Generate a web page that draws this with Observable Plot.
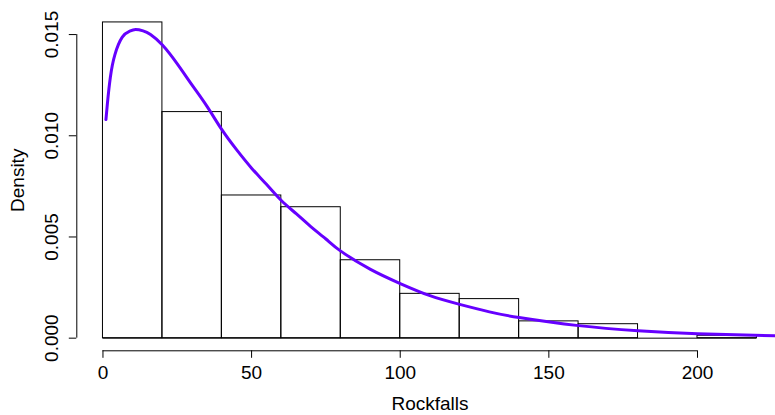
<!DOCTYPE html>
<html>
<head>
<meta charset="utf-8">
<script src="https://cdn.jsdelivr.net/npm/d3@7"></script>
<script src="https://cdn.jsdelivr.net/npm/@observablehq/plot@0.6"></script>
<style>
  html, body { margin: 0; padding: 0; background: #fff; overflow: hidden; }
  #chart svg { display: block; overflow: visible; }
</style>
</head>
<body>
<div id="chart"></div>
<script>
// Histogram bin edges and densities
const breaks = [0, 20, 40, 60, 80, 100, 120, 140, 160, 180, 200, 220];
const densities = [0.0156, 0.01117, 0.00705, 0.00647, 0.00385, 0.00219, 0.00193, 0.00083, 0.00069, 0, 0.00012];

// Fitted density curve
const curveX = [1, 1.5, 2.5, 4, 6.5, 9, 11, 13.5, 16, 20, 25, 30, 35, 40, 45, 50, 55, 60, 65, 70, 75, 80, 90, 100, 110, 120, 130, 140, 160, 180, 200, 226.5];
const curveY = [0.0108, 0.0116, 0.0129, 0.0140, 0.01487, 0.01517, 0.01525, 0.01518, 0.0150, 0.01448, 0.01355, 0.0125, 0.01145, 0.0103, 0.0093, 0.0084, 0.0076, 0.0068, 0.00615, 0.0055, 0.0049, 0.0043, 0.0034, 0.0027, 0.0021, 0.00167, 0.0013, 0.00102, 0.00062, 0.00037, 0.00022, 0.00012];

// Axis ticks
const xTicks = [0, 50, 100, 150, 200];
const yTicks = [0, 0.005, 0.010, 0.015];
const yTickLabels = ["0.000", "0.005", "0.010", "0.015"];

const bars = densities.map((d, i) => ({x1: breaks[i], x2: breaks[i + 1], y: d}));
const curve = curveX.map((x, i) => ({x, y: curveY[i]}));

// R-style 4% axis extension
const xr = breaks[breaks.length - 1] - breaks[0];
const xLo = breaks[0] - 0.04 * xr, xHi = breaks[breaks.length - 1] + 0.04 * xr;
const ymax = d3.max(densities);
const yLo = -0.04 * ymax, yHi = ymax * 1.04;

const W = 775, H = 415;
const mL = 76.3, mR = W - 782.6, mT = 9.3, mB = H - 350.3;
const font = "'Liberation Sans', Arial, Helvetica, sans-serif";
const fs = 19;

const chart = Plot.plot({
  width: W,
  height: H,
  marginLeft: mL,
  marginRight: mR,
  marginTop: mT,
  marginBottom: mB,
  style: {fontFamily: font, fontSize: fs + "px", color: "#000", background: "#fff", overflow: "visible"},
  x: {domain: [xLo, xHi]},
  y: {domain: [yLo, yHi]},
  marks: [
    Plot.rect(bars, {x1: "x1", x2: "x2", y1: 0, y2: "y", fill: "none", stroke: "#000", strokeWidth: 1}),
    Plot.ruleY([0], {x1: breaks[0], x2: breaks[breaks.length - 1], stroke: "#000", strokeWidth: 1}),
    Plot.line(curve, {x: "x", y: "y", stroke: "#6600ff", strokeWidth: 3, curve: "natural"}),
    // x axis
    Plot.ruleY([yLo], {x1: xTicks[0], x2: xTicks[xTicks.length - 1], stroke: "#000", strokeWidth: 1}),
    Plot.axisX({ticks: xTicks, tickSize: 7.5, tickPadding: 7, fontSize: fs, label: null, tickFormat: d => String(d), stroke: "#000", strokeWidth: 1, strokeOpacity: 1}),
    // y axis
    Plot.ruleX([xLo], {y1: yTicks[0], y2: yTicks[yTicks.length - 1], stroke: "#000", strokeWidth: 1}),
    Plot.axisY({ticks: yTicks, tickSize: 7.5, tickFormat: () => "", label: null, stroke: "#000", strokeWidth: 1, strokeOpacity: 1}),
    Plot.text(yTicks, {x: xLo, y: d => d, text: (d, i) => yTickLabels[i], rotate: -90, dx: -25, textAnchor: "middle", lineAnchor: "middle", fontSize: fs, fill: "#000"}),
    // axis titles
    Plot.text(["Density"], {x: xLo, y: (yLo + yHi) / 2, text: d => d, rotate: -90, dx: -59, textAnchor: "middle", lineAnchor: "middle", fontSize: fs, fill: "#000"}),
    Plot.text(["Rockfalls"], {x: (xLo + xHi) / 2, y: yLo, text: d => d, dy: 53, textAnchor: "middle", lineAnchor: "middle", fontSize: fs, fill: "#000"})
  ]
});
document.getElementById("chart").appendChild(chart);
</script>
</body>
</html>
